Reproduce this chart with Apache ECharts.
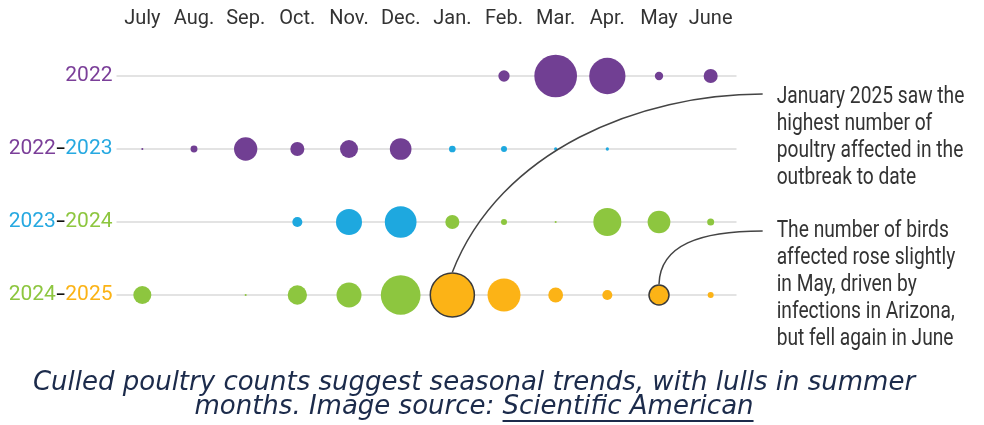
<!DOCTYPE html>
<html><head><meta charset="utf-8">
<script src="https://cdn.jsdelivr.net/npm/echarts@6/dist/echarts.min.js"></script>
<style>html,body{margin:0;padding:0;background:#fff}#c{width:984px;height:425px}</style>
</head><body><div id="c"></div>
<script>
// ---- data (millions of birds) ----
const months = ['July','Aug.','Sep.','Oct.','Nov.','Dec.','Jan.','Feb.','Mar.','Apr.','May','June'];
const seasons = ['2022','2022–2023','2023–2024','2024–2025'];
const birds2022    = [null,null,null,null,null,null,null,2.4,34.2,24.7,1.3,3.7];
const birds2022_23 = [0.08,0.9,10.2,3.7,6.1,8.8,0.84,0.68,0.2,0.2,null,null];
const birds2023_24 = [null,null,null,1.9,12.7,18.9,3.7,0.68,0.08,14.7,9.7,0.92];
const birds2024_25 = [6.1,null,0.08,7.0,11.7,29.6,36.5,20.4,4.1,1.9,7.5,0.68];
const highlightedMonths = ['Jan.','May'];   // in the 2024–2025 row
const noteJan = ['January 2025 saw the','highest number of','poultry affected in the','outbreak to date'];
const noteMay = ['The number of birds','affected rose slightly','in May, driven by','infections in Arizona,','but fell again in June'];
const captionLine1 = 'Culled poultry counts suggest seasonal trends, with lulls in summer';
const captionLine2a = 'months. Image source: ';
const captionLine2b = 'Scientific American';

// ---- styles ----
const C = {p:'#713f93', b:'#1ea8df', g:'#8dc63f', o:'#fcb316'};
const TXT = {p:'#7b3f99', b:'#27a9e1', g:'#8dc63f', o:'#fbb316'};
const rowColors = [['p','p'],['p','b'],['b','g'],['g','o']];
const sans = 'Roboto, "Liberation Sans", sans-serif';
const rows = [birds2022, birds2022_23, birds2023_24, birds2024_25];
const sizeOf = v => 7.3 * Math.sqrt(v);

const series = rows.map((vals, r) => ({
  type: 'scatter',
  clip: false,
  symbolSize: d => sizeOf(d[2]),
  data: vals.map((v, i) => v == null ? null : {
    value: [i, r, v],
    itemStyle: Object.assign({ color: C[rowColors[r][i < 6 ? 0 : 1]], opacity: 1 },
      (r === 3 && highlightedMonths.includes(months[i])) ? { borderColor: '#3a3a3a', borderWidth: 1.5 } : {})
  }).filter(d => d)
}));

const yFont = 21;
const richStyle = k => k === 'd'
  ? { color: '#111', fontSize: 15, fontWeight: 'bold', fontFamily: sans }
  : { color: TXT[k], fontSize: yFont, fontFamily: sans };

const chart = echarts.init(document.getElementById('c'), null, { renderer: 'canvas' });
chart.setOption({
  animation: false,
  backgroundColor: '#fff',
  grid: { left: 116.5, right: 247.5, top: 76, bottom: 130, containLabel: false, outerBoundsMode: 'none' },
  xAxis: {
    type: 'category', data: months, position: 'top', boundaryGap: true,
    axisLine: { show: false }, axisTick: { show: false }, splitLine: { show: false },
    axisLabel: { margin: 57, verticalAlign: 'middle', fontSize: 20, color: '#333', fontFamily: sans, interval: 0 }
  },
  yAxis: {
    type: 'category', data: seasons, inverse: true, boundaryGap: false,
    axisLine: { show: false }, axisTick: { show: false },
    splitLine: { show: true, lineStyle: { color: '#dadada', width: 1.5 } },
    axisLabel: {
      margin: 4, fontFamily: sans, fontSize: yFont,
      formatter: (val, idx) => {
        const parts = val.split('–');
        const cs = rowColors[idx];
        if (parts.length === 1) return '{' + cs[0] + '|' + parts[0] + '}';
        return '{' + cs[0] + '|' + parts[0] + '}{d|–}{' + cs[1] + '|' + parts[1] + '}';
      },
      rich: { p: richStyle('p'), b: richStyle('b'), g: richStyle('g'), o: richStyle('o'), d: richStyle('d') }
    }
  },
  series
});

// ---- annotations and caption ----
const gridRight = chart.convertToPixel({ gridIndex: 0 }, [11, 3])[0] + 26;
const jan = chart.convertToPixel({ gridIndex: 0 }, [months.indexOf('Jan.'), 3]);
const may = chart.convertToPixel({ gridIndex: 0 }, [months.indexOf('May'), 3]);
const rJan = sizeOf(birds2024_25[months.indexOf('Jan.')]) / 2 + 0.75;
const rMay = sizeOf(birds2024_25[months.indexOf('May')]) / 2 + 0.75;
const lineStart = gridRight + 26;
const textX = gridRight + 40;

const mctx = document.createElement('canvas').getContext('2d');
const capFont = 'italic 26px "DejaVu Sans"';
mctx.font = capFont;
const w2a = mctx.measureText(captionLine2a).width;
const w2b = mctx.measureText(captionLine2b).width;
const capCx = 474;
const x2 = capCx - (w2a + w2b) / 2;
const capColor = '#1c2b4b';
const noteFont = '24px ' + sans;

chart.setOption({
  graphic: [
    { type: 'bezierCurve', z: 10,
      shape: { x1: lineStart, y1: 94, cpx1: 640, cpy1: 94, cpx2: 500, cpy2: 150, x2: jan[0], y2: jan[1] - rJan },
      style: { stroke: '#444', lineWidth: 1.5, fill: null } },
    { type: 'bezierCurve', z: 10,
      shape: { x1: lineStart, y1: 231, cpx1: 700, cpy1: 231, cpx2: 660, cpy2: 245, x2: may[0], y2: may[1] - rMay },
      style: { stroke: '#444', lineWidth: 1.5, fill: null } },
    { type: 'text', x: textX, y: 83.5, scaleX: 0.8,
      style: { text: noteJan.join('\n'), font: noteFont, fill: '#333', lineHeight: 27, verticalAlign: 'top' } },
    { type: 'text', x: textX, y: 217.5, scaleX: 0.8,
      style: { text: noteMay.join('\n'), font: noteFont, fill: '#333', lineHeight: 27, verticalAlign: 'top' } },
    { type: 'text', x: capCx, y: 383,
      style: { text: captionLine1, font: capFont, fill: capColor, align: 'center', verticalAlign: 'middle' } },
    { type: 'text', x: x2, y: 407,
      style: { text: captionLine2a, font: capFont, fill: capColor, align: 'left', verticalAlign: 'middle' } },
    { type: 'text', x: x2 + w2a, y: 407,
      style: { text: captionLine2b, font: capFont, fill: capColor, align: 'left', verticalAlign: 'middle' } },
    { type: 'line', shape: { x1: x2 + w2a, y1: 421, x2: x2 + w2a + w2b, y2: 421 },
      style: { stroke: capColor, lineWidth: 2 } }
  ]
});
</script></body></html>
